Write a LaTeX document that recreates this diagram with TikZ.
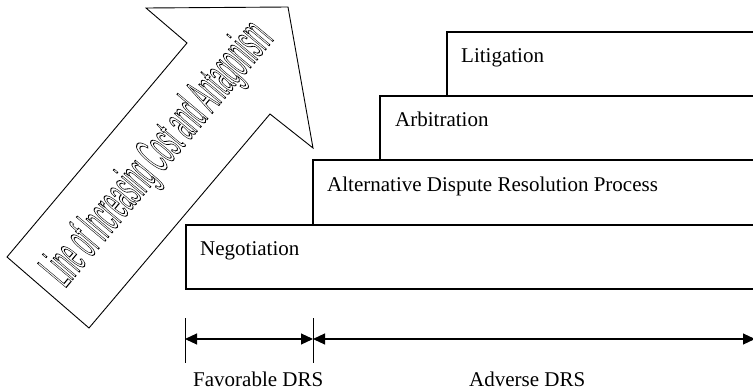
\documentclass[tikz,border=0pt]{standalone}
\usepackage{fontspec}
\setmainfont{Liberation Serif}
\newfontfamily\arrowfont[FakeBold=2]{Liberation Sans}
\usetikzlibrary{arrows.meta}
% white glyph interiors with black stroked outlines
\newcommand\hollow[1]{\special{pdf:literal direct 0 G}#1}

\begin{document}
\begin{tikzpicture}[x=1pt,y=-1pt,
  stage/.style={draw=black, line width=1.1pt},
  steplabel/.style={anchor=base west, inner sep=0pt, font=\fontsize{21}{25}\selectfont},
  dimline/.style={line width=1.1pt,
    {Triangle[length=12pt,width=11pt]}-{Triangle[length=12pt,width=11pt]}},
  tickline/.style={line width=0.8pt}]
\useasboundingbox (0,0) rectangle (753,391);
\clip (0,0) rectangle (753,391);

% stacked stages, running off to the right
\draw[stage] (447,32) rectangle (770,96);
\draw[stage] (380,96) rectangle (770,160);
\draw[stage] (313,160) rectangle (770,225);
\draw[stage] (186,225) rectangle (770,289);

\node[steplabel] (lit) at (461,62) {Litigation};
\node[steplabel] (arb) at (395,126) {Arbitration};
\node[steplabel] (adr) at (327,191) {Alternative Dispute Resolution Process};
\node[steplabel] (neg) at (200,255) {Negotiation};

% big rising arrow
\draw[line width=0.9pt, fill=white]
  (146,8) -- (288,7) -- (313,148) -- (270,114) -- (89,328) -- (7,257) -- (187,43) -- cycle;
\node[rotate=50, xscale=0.34, inner sep=0pt, text=white,
      font=\arrowfont\fontsize{54}{54}\selectfont]
  (cost) at (159,155) {\hollow{Line of Increasing Cost and Antagonism}};

% dimension lines
\coordinate (ta1) at (185,318);
\coordinate (tb1) at (185,363);
\coordinate (ta2) at (313,318);
\coordinate (tb2) at (313,363);
\draw[tickline] (ta1) -- (tb1);
\draw[tickline] (ta2) -- (tb2);
\coordinate (d1) at (185,339);
\coordinate (d2) at (313,339);
\coordinate (d3) at (755,339);
\draw[dimline] (d1) -- (d2);
\draw[dimline] (d2) -- (d3);

\node[steplabel] (fav) at (193,386) {Favorable DRS};
\node[steplabel] (adv) at (469,386) {Adverse DRS};
\end{tikzpicture}
\end{document}
